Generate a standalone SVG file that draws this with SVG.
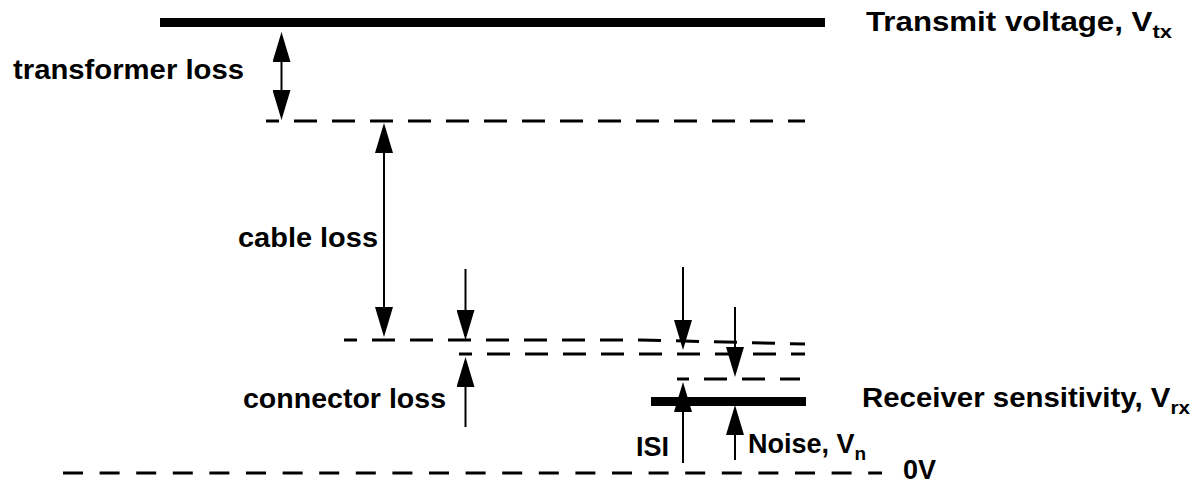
<svg xmlns="http://www.w3.org/2000/svg" width="1196" height="485" viewBox="0 0 1196 485">
  <style>
    .lbl { font-family: "Liberation Sans", Arial, Helvetica, sans-serif; font-weight: bold; font-size: 27px; fill: #000; }
    .sub { font-size: 19px; }
    .lvl { stroke: #000; stroke-width: 3; fill: none; stroke-dasharray: 23 15; }
    .zero { stroke: #000; stroke-width: 3; fill: none; stroke-dasharray: 20 16.6; }
    .bar { fill: #000; }
    .arr { stroke: #000; stroke-width: 2; fill: none; }
  </style>
  <defs>
    <marker id="head" viewBox="0 0 30 18" refX="26" refY="9" markerWidth="30" markerHeight="18" markerUnits="userSpaceOnUse" orient="auto-start-reverse">
      <path d="M0,0 L30,9 L0,18 Z" fill="#000"/>
    </marker>
  </defs>

  <rect width="1196" height="485" fill="#fff"/>

  <!-- voltage levels -->
  <g id="transmit-level">
    <rect class="bar" x="160" y="18" width="665" height="9"/>
    <text class="lbl" x="866" y="31" textLength="306" lengthAdjust="spacingAndGlyphs">Transmit voltage, V<tspan class="sub" dy="7">tx</tspan></text>
  </g>
  <g id="after-transformer">
    <line class="lvl" x1="266" y1="121" x2="805" y2="121" stroke-dashoffset="10"/>
  </g>
  <g id="after-cable">
    <polyline class="lvl" points="344,340 640,340 805,344" stroke-dashoffset="10"/>
  </g>
  <g id="after-connector">
    <line class="lvl" x1="459" y1="354" x2="805" y2="354" stroke-dashoffset="10"/>
  </g>
  <g id="after-isi">
    <line class="lvl" x1="677" y1="379" x2="800" y2="379" stroke-dashoffset="11"/>
  </g>
  <g id="receiver-level">
    <rect class="bar" x="651" y="397" width="155" height="9"/>
    <text class="lbl" x="862" y="407" textLength="328" lengthAdjust="spacingAndGlyphs">Receiver sensitivity, V<tspan class="sub" dy="7">rx</tspan></text>
  </g>
  <g id="zero-level">
    <line class="zero" x1="63" y1="473" x2="882" y2="473"/>
    <text class="lbl" x="903" y="479">0V</text>
  </g>

  <!-- loss labels -->
  <g id="transformer-loss">
    <text class="lbl" x="13" y="79" textLength="231" lengthAdjust="spacingAndGlyphs">transformer loss</text>
  </g>
  <g id="cable-loss">
    <text class="lbl" x="238" y="247" textLength="140" lengthAdjust="spacingAndGlyphs">cable loss</text>
  </g>
  <g id="connector-loss">
    <text class="lbl" x="243" y="408" textLength="203" lengthAdjust="spacingAndGlyphs">connector loss</text>
  </g>
  <g id="isi">
    <text class="lbl" x="636" y="456">ISI</text>
  </g>
  <g id="noise">
    <text class="lbl" x="748" y="453">Noise, V<tspan class="sub" dy="7">n</tspan></text>
  </g>

  <!-- dimension arrows -->
  <g id="connectors">
    <line class="arr" x1="281.5" y1="36" x2="281.5" y2="116" marker-start="url(#head)" marker-end="url(#head)"/>
    <line class="arr" x1="384" y1="127" x2="384" y2="333" marker-start="url(#head)" marker-end="url(#head)"/>
    <line class="arr" x1="465.5" y1="269" x2="465.5" y2="336" marker-end="url(#head)"/>
    <line class="arr" x1="465.5" y1="427" x2="465.5" y2="361" marker-end="url(#head)"/>
    <line class="arr" x1="683" y1="267" x2="683" y2="346" marker-end="url(#head)"/>
    <line class="arr" x1="683" y1="463" x2="683" y2="386" marker-end="url(#head)"/>
    <line class="arr" x1="735" y1="307" x2="735" y2="373" marker-end="url(#head)"/>
    <line class="arr" x1="735" y1="460" x2="735" y2="409" marker-end="url(#head)"/>
  </g>
</svg>
